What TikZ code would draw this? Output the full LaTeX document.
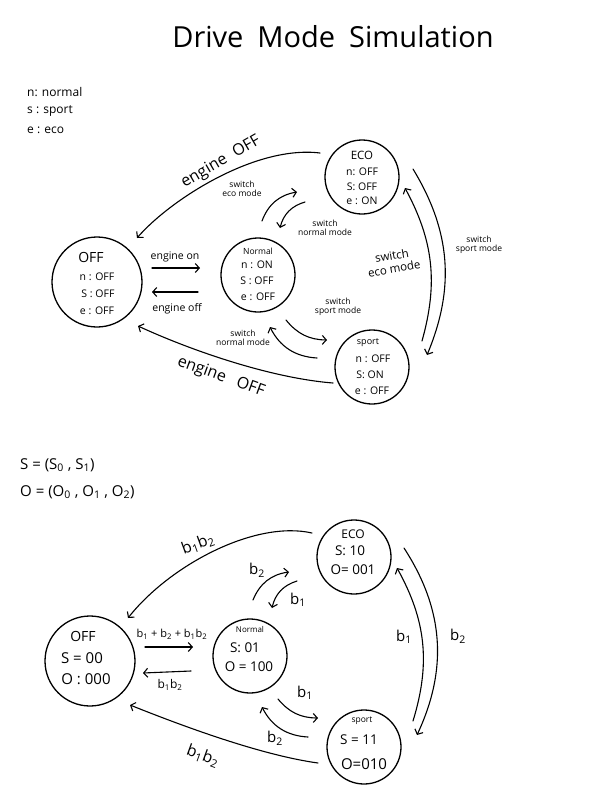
\documentclass[tikz,border=0pt]{standalone}
\usepackage{fontspec}
\setmainfont{Open Sans}
\usetikzlibrary{arrows.meta,calc}
\newcommand{\sbs}[1]{\textsubscript{#1}}
\begin{document}
\begin{tikzpicture}[x=1pt,y=-1pt,
  state/.style={circle, draw, line width=1.3pt, inner sep=0pt, outer sep=0pt},
  arr/.style={line width=1.1pt, line cap=round, -{Straight Barb[length=4pt,width=9pt]}},
  txt/.style={inner sep=0pt, font=\fontsize{10.5}{10.5}\selectfont},
  big/.style={inner sep=0pt, font=\fontsize{14}{14}\selectfont},
  small/.style={inner sep=0pt, align=center, font=\fontsize{8.5}{9.5}\selectfont},
  mid/.style={inner sep=0pt, align=center, font=\fontsize{11.5}{13}\selectfont},
  eoff/.style={inner sep=0pt, font=\fontsize{16}{16}\selectfont},
  bl/.style={inner sep=0pt, font=\fontsize{15}{15}\selectfont},
  st/.style={inner sep=0pt, font=\fontsize{13.5}{13.5}\selectfont}
]
\useasboundingbox (0,0) rectangle (613,809);
\fill[white] (0,0) rectangle (613,809);

% title and legend
\node[inner sep=0pt, font=\fontsize{29}{29}\selectfont] (title) at (333,37) {Drive\hspace{14pt}Mode\hspace{14pt}Simulation};
\node[inner sep=0pt, anchor=west, font=\fontsize{12}{12}\selectfont] (leg1) at (27,92) {n: normal};
\node[inner sep=0pt, anchor=west, font=\fontsize{12}{12}\selectfont] (leg2) at (27,111) {s : sport};
\node[inner sep=0pt, anchor=west, font=\fontsize{12}{12}\selectfont] (leg3) at (27,130) {e : eco};

% ===== top diagram =====
\node[state, minimum size=90pt] (off) at (97,282) {};
\node[state, minimum size=74pt] (normal) at (258,275) {};
\node[state, minimum size=74pt] (eco) at (362,177) {};
\node[state, minimum size=74pt] (sport) at (372,367) {};

\node[big] (offA) at (91,257) {OFF};
\node[txt] (offB) at (97,277) {n : OFF};
\node[txt] (offC) at (98,294) {S : OFF};
\node[txt] (offD) at (97,311) {e : OFF};

\node[inner sep=0pt, font=\fontsize{8.5}{8.5}\selectfont] (norA) at (258,251) {Normal};
\node[txt] (norB) at (257,265) {n : ON};
\node[txt] (norC) at (257,281) {S : OFF};
\node[txt] (norD) at (258,297) {e : OFF};

\node[inner sep=0pt, font=\fontsize{11.5}{11.5}\selectfont] (ecoA) at (362,155) {ECO};
\node[txt] (ecoB) at (362,172) {n: OFF};
\node[txt] (ecoC) at (362,187) {S: OFF};
\node[txt] (ecoD) at (362,201) {e : ON};

\node[inner sep=0pt, font=\fontsize{9}{9}\selectfont] (spA) at (368,343) {sport};
\node[txt] (spB) at (373,359) {n : OFF};
\node[txt] (spC) at (370,375) {S: ON};
\node[txt] (spD) at (372,391) {e : OFF};

\draw[arr] ($(off.center)+(55,-14)$) -- ($(normal.center)+(-58,-7)$);
\node[txt] (lon) at (175,257) {engine on};
\draw[arr] ($(normal.center)+(-60,17)$) -- ($(off.center)+(55,10)$);
\node[txt] (loff) at (177,309) {engine off};

\draw[arr] ($(eco.center)+(-42,-24)$) .. controls (255,145) and (170,200) .. ($(off.center)+(40,-44)$);
\node[eoff, rotate=30] (le1) at (221,162) {engine\hspace{9pt}OFF};
\draw[arr] ($(sport.center)+(-39,16)$) .. controls (270,378) and (190,350) .. ($(off.center)+(41,44)$);
\node[eoff, rotate=-20] (le2) at (221,377) {engine\hspace{12pt}OFF};

\draw[arr] ($(normal.center)+(4,-54)$) to[bend left=30] ($(eco.center)+(-65,15)$);
\node[small] (s1) at (242,189) {switch\\eco mode};
\draw[arr] ($(eco.center)+(-57,25)$) to[bend right=30] ($(normal.center)+(22,-47)$);
\node[small] (s2) at (325,228) {switch\\normal mode};
\draw[arr] ($(normal.center)+(28,45)$) to[bend right=25] ($(sport.center)+(-45,-27)$);
\node[small] (s3) at (338,307) {switch\\sport mode};
\draw[arr] ($(sport.center)+(-55,-9)$) to[bend left=30] ($(normal.center)+(12,52)$);
\node[small] (s4) at (243,338) {switch\\normal mode};

\draw[arr] ($(eco.center)+(51,-8)$) to[bend left=27] ($(sport.center)+(55,-12)$);
\node[small] (s5) at (479,245) {switch\\sport mode};
\draw[arr] ($(sport.center)+(50,-26)$) to[bend right=22] ($(eco.center)+(43,11)$);
\node[mid, rotate=10] (s6) at (393,262) {switch\\eco mode};

% ===== bottom diagram =====
\node[inner sep=0pt, anchor=west, font=\fontsize{15}{15}\selectfont] (leg4) at (20,465) {S = (S\sbs{0} , S\sbs{1})};
\node[inner sep=0pt, anchor=west, font=\fontsize{15}{15}\selectfont] (leg5) at (20,492) {O = (O\sbs{0} , O\sbs{1} , O\sbs{2})};

\node[state, minimum size=90pt] (off2) at (90,661) {};
\node[state, minimum size=74pt] (normal2) at (250,656) {};
\node[state, minimum size=74pt] (eco2) at (354,557) {};
\node[state, minimum size=74pt] (sport2) at (364,747) {};

\node[big] (o2A) at (83,636) {OFF};
\node[inner sep=0pt, font=\fontsize{15}{15}\selectfont] (o2B) at (82,658) {S = 00};
\node[inner sep=0pt, font=\fontsize{15}{15}\selectfont] (o2C) at (86,679) {O : 000};

\node[inner sep=0pt, font=\fontsize{8}{8}\selectfont] (n2A) at (250,629) {Normal};
\node[st] (n2B) at (245,648) {S: 01};
\node[st] (n2C) at (249,667) {O = 100};

\node[inner sep=0pt, font=\fontsize{12}{12}\selectfont] (e2A) at (353,534) {ECO};
\node[st] (e2B) at (350,551) {S: 10};
\node[st] (e2C) at (353,570) {O= 001};

\node[inner sep=0pt, font=\fontsize{8.5}{8.5}\selectfont] (sp2A) at (362,721) {sport};
\node[st] (sp2B) at (359,740) {S = 11};
\node[inner sep=0pt, font=\fontsize{15}{15}\selectfont] (sp2C) at (364,764) {O=010};

\draw[arr] ($(off2.center)+(55,-14)$) -- ($(normal2.center)+(-57,-9)$);
\node[inner sep=0pt, font=\fontsize{11}{11}\selectfont] (b1) at (172,634) {b\sbs{1} + b\sbs{2} + b\sbs{1}b\sbs{2}};
\draw[arr] ($(normal2.center)+(-59,15)$) -- ($(off2.center)+(53,12)$);
\node[inner sep=0pt, font=\fontsize{12}{12}\selectfont] (b2) at (170,685) {b\sbs{1}b\sbs{2}};

\draw[arr] ($(eco2.center)+(-42,-24)$) .. controls (255,520) and (170,565) .. ($(off2.center)+(38,-43)$);
\node[bl, font=\fontsize{16}{16}\selectfont, rotate=20] (b3) at (198,544) {b\sbs{1}b\sbs{2}};
\draw[arr] ($(sport2.center)+(-46,16)$) .. controls (260,755) and (180,725) .. ($(off2.center)+(40,44)$);
\node[bl, font=\fontsize{16}{16}\selectfont, rotate=-20] (b4) at (203,756) {b\sbs{1}b\sbs{2}};

\draw[arr] ($(normal2.center)+(3,-56)$) to[bend left=30] ($(eco2.center)+(-65,15)$);
\node[bl] (b5) at (257,570) {b\sbs{2}};
\draw[arr] ($(eco2.center)+(-57,24)$) to[bend right=30] ($(normal2.center)+(22,-48)$);
\node[bl] (b6) at (298,600) {b\sbs{1}};
\draw[arr] ($(normal2.center)+(28,43)$) to[bend right=25] ($(sport2.center)+(-46,-29)$);
\node[bl] (b7) at (305,693) {b\sbs{1}};
\draw[arr] ($(sport2.center)+(-56,-10)$) to[bend left=30] ($(normal2.center)+(12,51)$);
\node[bl] (b8) at (275,738) {b\sbs{2}};

\draw[arr] ($(eco2.center)+(50,-9)$) to[bend left=29] ($(sport2.center)+(53,-12)$);
\node[bl] (b9) at (458,636) {b\sbs{2}};
\draw[arr] ($(sport2.center)+(49,-26)$) to[bend right=23] ($(eco2.center)+(43,11)$);
\node[bl] (b10) at (404,637) {b\sbs{1}};
\end{tikzpicture}
\end{document}
